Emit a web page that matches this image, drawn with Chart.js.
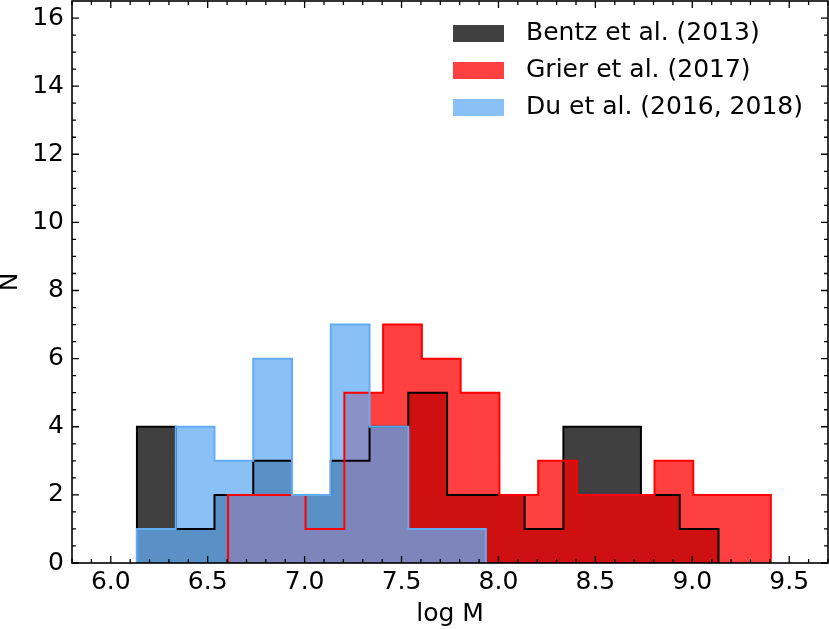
<!DOCTYPE html>
<html>
<head>
<meta charset="utf-8">
<script src="https://cdn.jsdelivr.net/npm/chart.js@4.4.1/dist/chart.umd.min.js"></script>
<style>
  html, body { margin: 0; padding: 0; background: #fff; }
</style>
</head>
<body>
<canvas id="hist" width="829" height="629"></canvas>
<script>
// histogram values (bin edges in log M, counts N)
const seriesNames = ['Bentz et al. (2013)', 'Grier et al. (2017)', 'Du et al. (2016, 2018)'];

const bentzEdges = [6.135, 6.335, 6.535, 6.735, 6.935, 7.135, 7.335, 7.535, 7.735, 7.935, 8.135, 8.335, 8.535, 8.735, 8.935, 9.135];
const bentzCounts = [4, 1, 2, 3, 2, 3, 4, 5, 2, 2, 1, 4, 4, 2, 1];

const grierEdges = [6.605, 6.805, 7.005, 7.205, 7.405, 7.605, 7.805, 8.005, 8.205, 8.405, 8.605, 8.805, 9.005, 9.205, 9.405];
const grierCounts = [2, 2, 1, 5, 7, 6, 5, 2, 3, 2, 2, 3, 2, 2];

const duEdges = [6.135, 6.335, 6.535, 6.735, 6.935, 7.135, 7.335, 7.535, 7.735, 7.935];
const duCounts = [1, 4, 3, 6, 2, 7, 4, 1, 1];

const xLimits = [5.8, 9.7];
const yLimits = [0, 16.5];
const xMajor = 0.5, xMinor = 0.1;
const yMajor = 2, yMinor = 0.5;

const FONT = "'DejaVu Sans', 'Liberation Sans', sans-serif";

const fillColors = ['rgba(0,0,0,0.75)', 'rgba(255,0,0,0.75)', 'rgba(98,172,244,0.75)'];
const edgeColors = ['#000000', '#ff0000', '#62acf4'];

// turn edges + counts into the points of a step outline
function stepPoints(edges, counts) {
  const pts = [{ x: edges[0], y: 0 }];
  counts.forEach((c, i) => pts.push({ x: edges[i], y: c }));
  pts.push({ x: edges[edges.length - 1], y: 0 });
  return pts;
}

function histSet(i, edges, counts) {
  return {
    label: seriesNames[i],
    data: stepPoints(edges, counts),
    stepped: true,
    fill: 'origin',
    backgroundColor: fillColors[i],
    borderColor: edgeColors[i],
    borderWidth: 2,
    borderJoinStyle: 'miter',
    pointRadius: 0,
    order: 3 - i
  };
}

// inner ticks on all four sides + the frame
const frameTicks = {
  id: 'frameTicks',
  afterDatasetsDraw(chart) {
    const { ctx, chartArea: a, scales: { x, y } } = chart;
    const majLen = 7, minLen = 4;
    ctx.save();
    ctx.strokeStyle = '#000';
    ctx.lineWidth = 1.3;
    ctx.beginPath();
    const nx = Math.round(xMajor / xMinor);
    for (let k = Math.ceil(x.min / xMinor - 1e-6); k * xMinor <= x.max + 1e-9; k++) {
      const px = x.getPixelForValue(k * xMinor);
      const len = k % nx === 0 ? majLen : minLen;
      ctx.moveTo(px, a.bottom); ctx.lineTo(px, a.bottom - len);
      ctx.moveTo(px, a.top); ctx.lineTo(px, a.top + len);
    }
    const ny = Math.round(yMajor / yMinor);
    for (let k = Math.ceil(y.min / yMinor); k * yMinor < y.max - 1e-9; k++) {
      const py = y.getPixelForValue(k * yMinor);
      const len = k % ny === 0 ? majLen : minLen;
      ctx.moveTo(a.left, py); ctx.lineTo(a.left + len, py);
      ctx.moveTo(a.right, py); ctx.lineTo(a.right - len, py);
    }
    ctx.stroke();
    ctx.lineWidth = 1.6;
    ctx.strokeRect(a.left, a.top, a.right - a.left, a.bottom - a.top);
    ctx.restore();
  }
};

const boxLegend = {
  id: 'boxLegend',
  afterDraw(chart) {
    const ctx = chart.ctx;
    ctx.save();
    ctx.font = '25px ' + FONT;
    ctx.textBaseline = 'middle';
    ctx.textAlign = 'left';
    seriesNames.forEach((name, i) => {
      const cy = 33.5 + i * 37;
      ctx.fillStyle = fillColors[i];
      ctx.fillRect(453, cy - 8.5, 51, 17);
      ctx.fillStyle = '#000';
      ctx.fillText(name, 526, cy);
    });
    ctx.restore();
  }
};

new Chart(document.getElementById('hist'), {
  type: 'line',
  data: {
    datasets: [
      histSet(0, bentzEdges, bentzCounts),
      histSet(1, grierEdges, grierCounts),
      histSet(2, duEdges, duCounts)
    ]
  },
  options: {
    responsive: false,
    animation: false,
    devicePixelRatio: 1,
    layout: { padding: { top: 1, right: 1, left: 0, bottom: 0 } },
    plugins: {
      legend: { display: false },
      tooltip: { enabled: false },
      filler: { drawTime: 'beforeDatasetsDraw' }
    },
    scales: {
      x: {
        type: 'linear',
        min: xLimits[0],
        max: xLimits[1],
        afterFit(s) {
          s.height = 66;
          s.paddingLeft = 0; s.paddingRight = 0;
        },
        grid: { display: false, drawTicks: false },
        border: { display: false },
        ticks: {
          stepSize: xMajor,
          includeBounds: false,
          autoSkip: false,
          maxRotation: 0,
          padding: 4,
          color: '#000',
          font: { family: FONT, size: 25, lineHeight: 1.2 },
          callback: v => v.toFixed(1)
        },
        title: {
          display: true,
          text: 'log M',
          color: '#000',
          padding: 0,
          font: { family: FONT, size: 25, lineHeight: 1.2 }
        }
      },
      y: {
        type: 'linear',
        min: yLimits[0],
        max: yLimits[1],
        afterFit(s) {
          s.width = 72;
          s.paddingTop = 0; s.paddingBottom = 0;
        },
        grid: { display: false, drawTicks: false },
        border: { display: false },
        ticks: {
          stepSize: yMajor,
          includeBounds: false,
          autoSkip: false,
          padding: 8,
          color: '#000',
          font: { family: FONT, size: 25, lineHeight: 1.2 },
          callback: v => String(v)
        },
        title: {
          display: true,
          text: 'N',
          color: '#000',
          padding: 0,
          font: { family: FONT, size: 25, lineHeight: 0.85 }
        }
      }
    }
  },
  plugins: [frameTicks, boxLegend]
});
</script>
</body>
</html>
